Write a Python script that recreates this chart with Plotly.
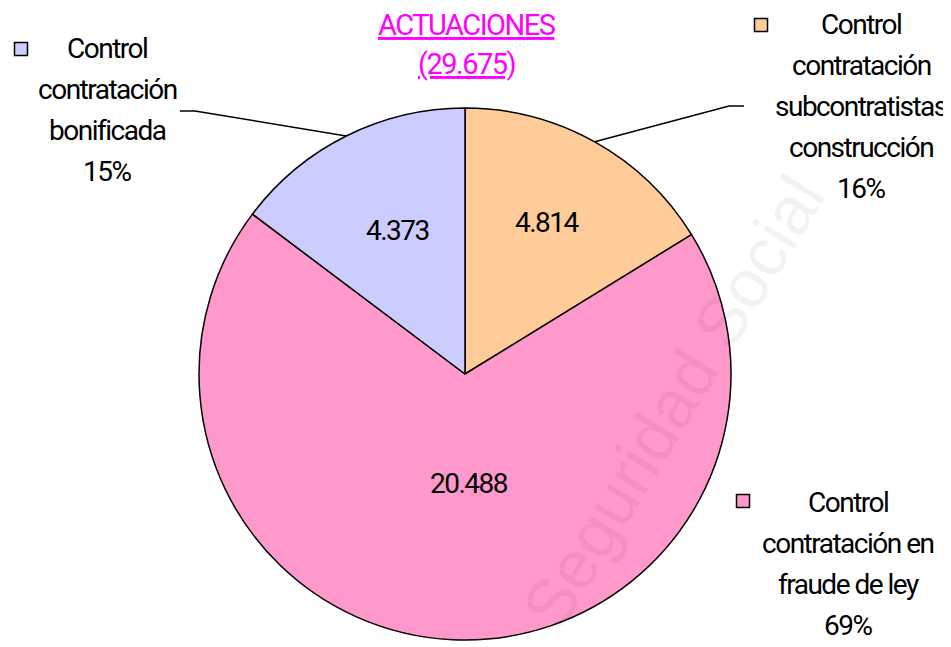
import math
import plotly.graph_objects as go

# ---- data ----
categories = ["Control contratación subcontratistas construcción",
              "Control contratación en fraude de ley",
              "Control contratación bonificada"]
values = [4814, 20488, 4373]
value_labels = ["4.814", "20.488", "4.373"]
pct_labels = ["16%", "69%", "15%"]
label_lines = [["Control", "contratación", "subcontratistas", "construcción"],
               ["Control", "contratación en", "fraude de ley"],
               ["Control", "contratación", "bonificada"]]
title_lines = ["ACTUACIONES", "(29.675)"]
watermark = "Seguridad Social"

# ---- styling / layout constants (page pixel coordinates) ----
PAGE_W, PAGE_H = 951, 647
OFF = 8                      # default body margin of the html page
W, H = PAGE_W - OFF, PAGE_H - OFF
colors = ["#FFCC99", "#FF99CC", "#CCCCFF"]
CX, CY, R = 465, 374, 266
FONT = "Roboto, sans-serif"
FS = 28
LINE_H = 41
SPACING = -1.5
# label block anchors: (center x, first line y), marker (x, y)
label_pos = [(861, 24, 761, 25), (848, 502, 743, 501), (107, 48, 21, 49)]
value_rfrac = [0.66, 0.40, 0.60]
value_shift = [(-3, 2), (9, 3), (4, -1)]
leader = {0: [(744, 106), (729, 106)], 2: [(180, 111), (195, 111)]}


def narrow(t, extra=""):
    return '<span style="letter-spacing:%spx;%s">%s</span>' % (SPACING, extra, t)


fig = go.Figure()
fig.add_trace(go.Pie(
    labels=categories, values=values, sort=False, direction="clockwise",
    rotation=0, marker=dict(colors=colors, line=dict(color="black", width=1.5)),
    textinfo="none", hoverinfo="label+value+percent", showlegend=False,
    domain=dict(x=[(CX - R - OFF) / W, (CX + R - OFF) / W],
                y=[1 - (CY + R - OFF) / H, 1 - (CY - R - OFF) / H]),
))

total = sum(values)
cum = 0
annotations = []
for i, v in enumerate(values):
    mid = (cum + v / 2) / total * 2 * math.pi
    cum += v
    sx, sy = math.sin(mid), -math.cos(mid)
    rf = value_rfrac[i]
    dx, dy = value_shift[i]
    annotations.append(dict(x=CX + R * rf * sx + dx, y=CY + R * rf * sy + dy,
                            xref="x", yref="y", text=narrow(value_labels[i]),
                            showarrow=False,
                            font=dict(family=FONT, size=FS, color="black")))
    lx, ly, mx, my = label_pos[i]
    lines = label_lines[i] + [pct_labels[i]]
    for k, t in enumerate(lines):
        annotations.append(dict(x=lx, y=ly + k * LINE_H, xref="x", yref="y",
                                text=narrow(t), showarrow=False,
                                font=dict(family=FONT, size=FS, color="black")))
    fig.add_trace(go.Scatter(x=[mx], y=[my], mode="markers", showlegend=False,
                             hoverinfo="skip",
                             marker=dict(symbol="square", size=13, color=colors[i],
                                         line=dict(color="black", width=1.5))))
    if i in leader:
        pts = leader[i] + [(CX + R * sx, CY + R * sy)]
        fig.add_trace(go.Scatter(x=[p[0] for p in pts], y=[p[1] for p in pts],
                                 mode="lines", showlegend=False, hoverinfo="skip",
                                 line=dict(color="black", width=1.5)))

# title
for k, t in enumerate(title_lines):
    annotations.append(dict(x=467, y=25 + k * 39, xref="x", yref="y",
                            text=narrow(t, "text-decoration:underline"),
                            showarrow=False,
                            font=dict(family=FONT, size=29, color="#FF00FF")))

# watermark
annotations.append(dict(x=673, y=402, xref="x", yref="y", text=watermark,
                        showarrow=False, textangle=-58.7,
                        font=dict(family="Liberation Sans, Arial, sans-serif", size=68,
                                  color="rgba(0,0,0,0.05)")))

fig.update_layout(
    width=W, height=H, margin=dict(l=0, r=0, t=0, b=0),
    paper_bgcolor="white", plot_bgcolor="rgba(0,0,0,0)",
    xaxis=dict(range=[OFF, PAGE_W], visible=False, fixedrange=True, domain=[0, 1]),
    yaxis=dict(range=[PAGE_H, OFF], visible=False, fixedrange=True, domain=[0, 1]),
    annotations=annotations,
)

fig.write_html("out.html")
